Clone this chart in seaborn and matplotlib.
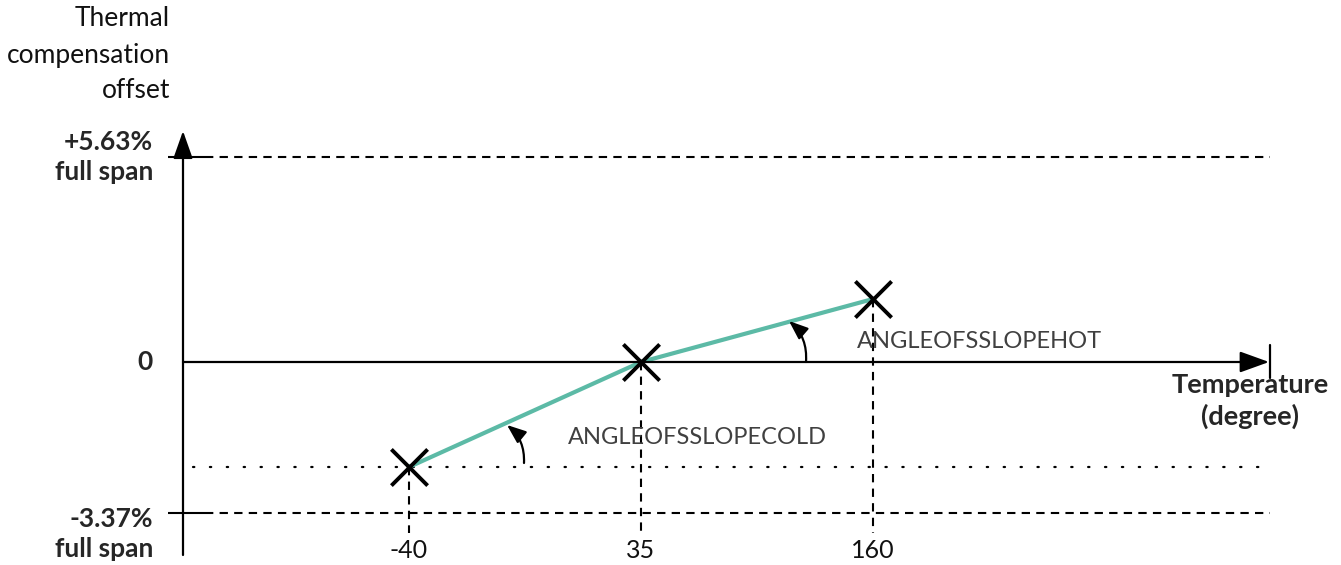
import matplotlib
matplotlib.use('Agg')
import matplotlib.pyplot as plt
import seaborn as sns
import pandas as pd

# ---- data (schematic diagram) ----
temperatures = ['-40', '35', '160']          # temperature tick labels (degree)
temp_index = [0, 1, 2]                        # categorical positions
offsets = [-1.05, 0.0, 0.63]                  # schematic offset of each point
y_levels = [2.05, 0.0, -1.51]                 # schematic y positions of the limits
y_labels = ['+5.63%\nfull span', '0', '-3.37%\nfull span']
y_title = 'Thermal\ncompensation\noffset'
x_title = 'Temperature\n(degree)'
slope_labels = ['ANGLEOFSSLOPECOLD', 'ANGLEOFSSLOPEHOT']

df = pd.DataFrame({'idx': temp_index, 'offset': offsets, 'temp': temperatures})

sns.set_theme(style='white')
plt.rcParams['font.family'] = ['Lato', 'DejaVu Sans']

W, H = 1341, 565
fig = plt.figure(figsize=(W / 100, H / 100), dpi=100)
ax = fig.add_axes([0, 0, 1, 1])
X0, XS = 409, 232
Y0, YS = 362, 100
ax.set_xlim(-X0 / XS, (W - X0) / XS)
ax.set_ylim(-(H - Y0) / YS, Y0 / YS)
ax.axis('off')


def dx(p):
    return (p - X0) / XS


def dy(p):
    return (Y0 - p) / YS


xa = dx(183)        # y-axis position
xr = dx(1270)       # right end of lines
dash = (0, (4, 3))

# limit lines
for lvl, lab in zip(y_levels, y_labels):
    if lvl == 0:
        continue
    ax.plot([dx(168), dx(205)], [lvl, lvl], color='black', lw=1.5, solid_capstyle='butt')
    ax.plot([dx(205), xr], [lvl, lvl], color='black', lw=1.5, linestyle=dash)

# dotted line at cold level
ax.plot([dx(193), xr], [offsets[0], offsets[0]], color='black', lw=1.6,
        linestyle=(0, (0.6, 7)), dash_capstyle='round')

# vertical dashed drop lines
for i, o in zip(temp_index, offsets):
    ax.plot([i, i], [o, dy(533)], color='black', lw=1.5, linestyle=dash)

# axes with arrows
ax.annotate('', xy=(xa, dy(131)), xytext=(xa, dy(555)),
            arrowprops=dict(arrowstyle='-|>,head_length=1.7,head_width=0.6',
                            mutation_scale=10, lw=1.6, color='black',
                            shrinkA=0, shrinkB=0))
ax.annotate('', xy=(dx(1269), 0), xytext=(xa, 0),
            arrowprops=dict(arrowstyle='-|>,head_length=1.8,head_width=0.65',
                            mutation_scale=10, lw=1.6, color='black',
                            shrinkA=0, shrinkB=0))
ax.plot([dx(1270), dx(1270)], [dy(345), dy(378)], color='black', lw=1.6)

# teal slope line and X markers
sns.lineplot(data=df, x='idx', y='offset', ax=ax, color='#5cbaa6', lw=3.0,
             legend=False, sort=False)
sns.scatterplot(data=df, x='idx', y='offset', ax=ax, marker='x', s=680,
                color='black', linewidth=2.8, legend=False, zorder=5)
ax.set_xlabel('')
ax.set_ylabel('')

# curved angle arrows
arc = dict(arrowstyle='-|>,head_length=1.15,head_width=0.45', mutation_scale=10,
           lw=1.6, color='black', connectionstyle='arc3,rad=0.25',
           shrinkA=0, shrinkB=0)
ax.annotate('', xy=(dx(507), dy(425)), xytext=(dx(524), dy(463)), arrowprops=arc)
ax.annotate('', xy=(dx(789), dy(321)), xytext=(dx(806), dy(362)), arrowprops=arc)

# texts
ax.text(dx(170), dy(55), y_title, ha='right', va='center', fontsize=19,
        linespacing=1.55, color='#111111')
for lvl, lab in zip(y_levels, y_labels):
    if lvl == 0:
        ax.text(dx(153), lvl, lab, ha='right', va='center', fontsize=19,
                fontweight='bold')
    else:
        off = 0.0 if lvl > 0 else -0.21
        ax.text(dx(153), lvl + off, lab, ha='right', va='center', fontsize=19,
                fontweight='bold', linespacing=1.3)
ax.text(dx(1250), dy(401), x_title, ha='center', va='center', fontsize=19.5,
        fontweight='bold', linespacing=1.35)
for i, t in zip(temp_index, temperatures):
    ax.text(i, dy(551), t, ha='center', va='center', fontsize=18, color='#111111')
ax.text(dx(568), dy(438), slope_labels[0], ha='left', va='center', fontsize=17,
        color='#404040')
ax.text(dx(857), dy(342), slope_labels[1], ha='left', va='center', fontsize=17,
        color='#404040')

fig.savefig('out.png', dpi=100)
